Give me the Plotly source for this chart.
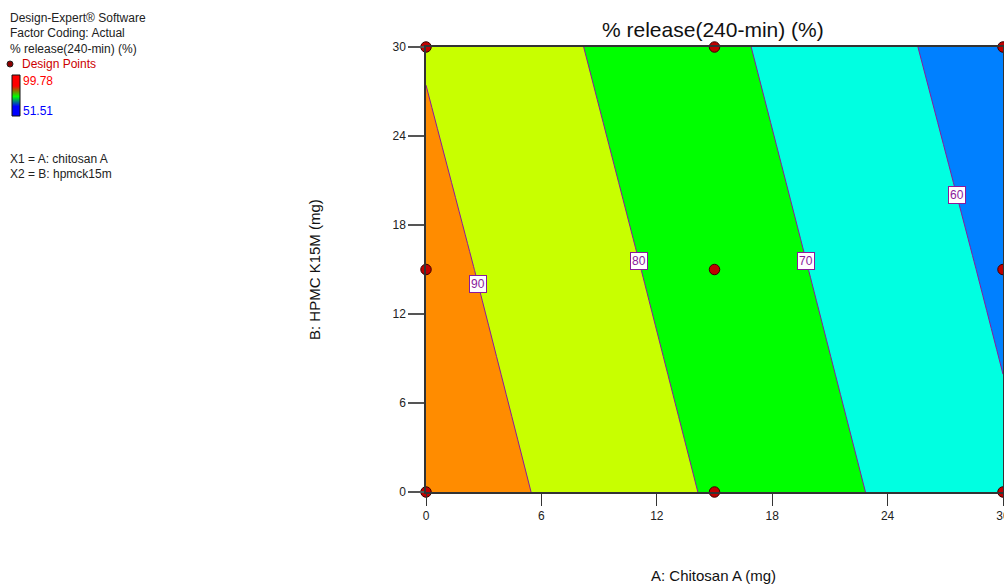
import plotly.graph_objects as go

# ---- data ----
chitosan_levels = [0, 15, 30]          # A: Chitosan A (mg)
hpmc_levels = [0, 15, 30]              # B: HPMC K15M (mg)
# predicted % release at each (B row, A column)
release_grid = [
    [96.3, 79.0, 61.8],   # B = 0
    [92.9, 75.6, 58.4],   # B = 15
    [89.4, 72.2, 54.9],   # B = 30
]
design_x = [0, 15, 30, 0, 15, 30, 0, 15, 30]
design_y = [0, 0, 0, 15, 15, 15, 30, 30, 30]
contour_levels = [60, 70, 80, 90]
label_y = {60: 20.0, 70: 15.6, 80: 15.6, 90: 14.0}
legend_hi, legend_lo = 99.78, 51.51
tick_vals = [0, 6, 12, 18, 24, 30]

W, H = 1004, 584
def px(x): return x / W
def py(y): return 1 - y / H

band_colors = ["#0080FF", "#00FFE1", "#00FF00", "#C8FF00", "#FF8C00"]
cs = []
n = len(band_colors)
for i, c in enumerate(band_colors):
    cs.append([i / n, c]); cs.append([(i + 1) / n, c])

fig = go.Figure()
fig.add_trace(go.Contour(
    x=chitosan_levels, y=hpmc_levels, z=release_grid,
    autocontour=False,
    contours=dict(start=contour_levels[0], end=contour_levels[-1], size=10, coloring="fill"),
    colorscale=cs, showscale=False,
    line=dict(color="#8B1A9B", width=1, smoothing=0),
    hoverinfo="skip",
))
fig.add_trace(go.Scatter(
    x=design_x, y=design_y, mode="markers", cliponaxis=False,
    marker=dict(size=10.5, color="#C00000", line=dict(color="#3A0000", width=1)),
    hoverinfo="skip", showlegend=False,
))

# mini gradient legend
fig.add_trace(go.Heatmap(
    z=[[legend_lo], [legend_hi]], zsmooth="best", showscale=False,
    colorscale=[[0, "#0000FF"], [0.5, "#00FF00"], [1, "#FF0000"]],
    xaxis="x2", yaxis="y2", hoverinfo="skip",
))

# contour label positions from the grid
def interp_row(yv):
    ys = hpmc_levels
    for j in range(len(ys) - 1):
        if ys[j] <= yv <= ys[j + 1]:
            t = (yv - ys[j]) / (ys[j + 1] - ys[j])
            return [release_grid[j][k] * (1 - t) + release_grid[j + 1][k] * t for k in range(len(chitosan_levels))]
    return release_grid[-1]

def x_at(level, yv):
    row = interp_row(yv)
    xs = chitosan_levels
    for k in range(len(xs) - 1):
        a, b = row[k], row[k + 1]
        if min(a, b) <= level <= max(a, b):
            t = (level - a) / (b - a)
            return xs[k] + t * (xs[k + 1] - xs[k])
    return xs[-1]

annotations = []
for lv in contour_levels:
    yv = label_y[lv]
    annotations.append(dict(
        x=x_at(lv, yv), y=yv, xref="x", yref="y", text=str(lv), showarrow=False,
        font=dict(family="Liberation Sans, Arial", size=12, color="#8B1A9B"),
        bgcolor="white", bordercolor="#8B1A9B", borderwidth=1, borderpad=1,
    ))

font = "Liberation Sans, Arial, sans-serif"
left_texts = [
    ("Design-Expert® Software", 8, 18, "#222"),
    ("Factor Coding: Actual", 8, 33, "#222"),
    ("% release(240-min) (%)", 8, 49, "#222"),
    ("Design Points", 20, 64, "#CC0000"),
    (f"{legend_hi:.2f}", 21, 81, "#FF0000"),
    (f"{legend_lo:.2f}", 21, 111, "#0000FF"),
    ("X1 = A: chitosan A", 8, 159, "#222"),
    ("X2 = B: hpmck15m", 8, 174, "#222"),
]
for t, x, y, c in left_texts:
    annotations.append(dict(x=px(x), y=py(y), xref="paper", yref="paper", text=t,
                            xanchor="left", yanchor="middle", showarrow=False,
                            font=dict(family=font, size=12, color=c)))

annotations.append(dict(x=px(713), y=py(29), xref="paper", yref="paper",
                        text="% release(240-min) (%)", showarrow=False,
                        xanchor="center", yanchor="middle",
                        font=dict(family=font, size=21, color="#111")))
annotations.append(dict(x=px(713), y=py(575), xref="paper", yref="paper",
                        text="A: Chitosan A (mg)", showarrow=False,
                        xanchor="center", yanchor="middle",
                        font=dict(family=font, size=15, color="#111")))
annotations.append(dict(x=px(314), y=py(270), xref="paper", yref="paper",
                        text="B: HPMC K15M (mg)", showarrow=False, textangle=-90,
                        xanchor="center", yanchor="middle",
                        font=dict(family=font, size=15, color="#111")))

shapes = [
    dict(type="circle", xref="paper", yref="paper",
         x0=px(7), x1=px(13), y0=py(67), y1=py(61),
         fillcolor="#8B0000", line=dict(color="#222", width=1)),
    dict(type="rect", xref="paper", yref="paper",
         x0=px(12), x1=px(20), y0=py(116), y1=py(75),
         line=dict(color="#111", width=1)),
]

fig.update_layout(
    width=W, height=H, autosize=False,
    margin=dict(l=0, r=0, t=0, b=0, pad=0, autoexpand=False),
    paper_bgcolor="white", plot_bgcolor="white", showlegend=False,
    xaxis=dict(domain=[px(426), px(1003)], range=[0, 30], tickvals=tick_vals,
               automargin=False, ticklabeloverflow="allow",
               ticks="outside", ticklen=12, tickcolor="#333", tickwidth=1,
               showline=True, mirror=True, linecolor="#333", linewidth=1.5,
               showgrid=False, zeroline=False,
               tickfont=dict(family=font, size=12, color="#222")),
    yaxis=dict(domain=[py(492), py(47)], range=[0, 30], tickvals=tick_vals,
               automargin=False,
               ticks="outside", ticklen=16, tickcolor="#555", tickwidth=1.5,
               showline=True, mirror=True, linecolor="#333", linewidth=1.5,
               showgrid=False, zeroline=False,
               tickfont=dict(family=font, size=12, color="#222")),
    xaxis2=dict(domain=[px(12), px(20)], anchor="y2", visible=False,
                automargin=False, fixedrange=True),
    yaxis2=dict(domain=[py(116), py(75)], anchor="x2", visible=False,
                automargin=False, fixedrange=True),
    annotations=annotations, shapes=shapes,
)

post = (
    "var gd=document.getElementById('{plot_id}');"
    "gd.style.position='fixed';gd.style.top='0px';gd.style.left='0px';"
    "document.documentElement.style.overflow='hidden';"
    "document.body.style.margin='0';document.body.style.padding='0';"
    "document.body.style.overflow='hidden';"
)
fig.write_html("out.html", config={"displayModeBar": False}, post_script=post)
